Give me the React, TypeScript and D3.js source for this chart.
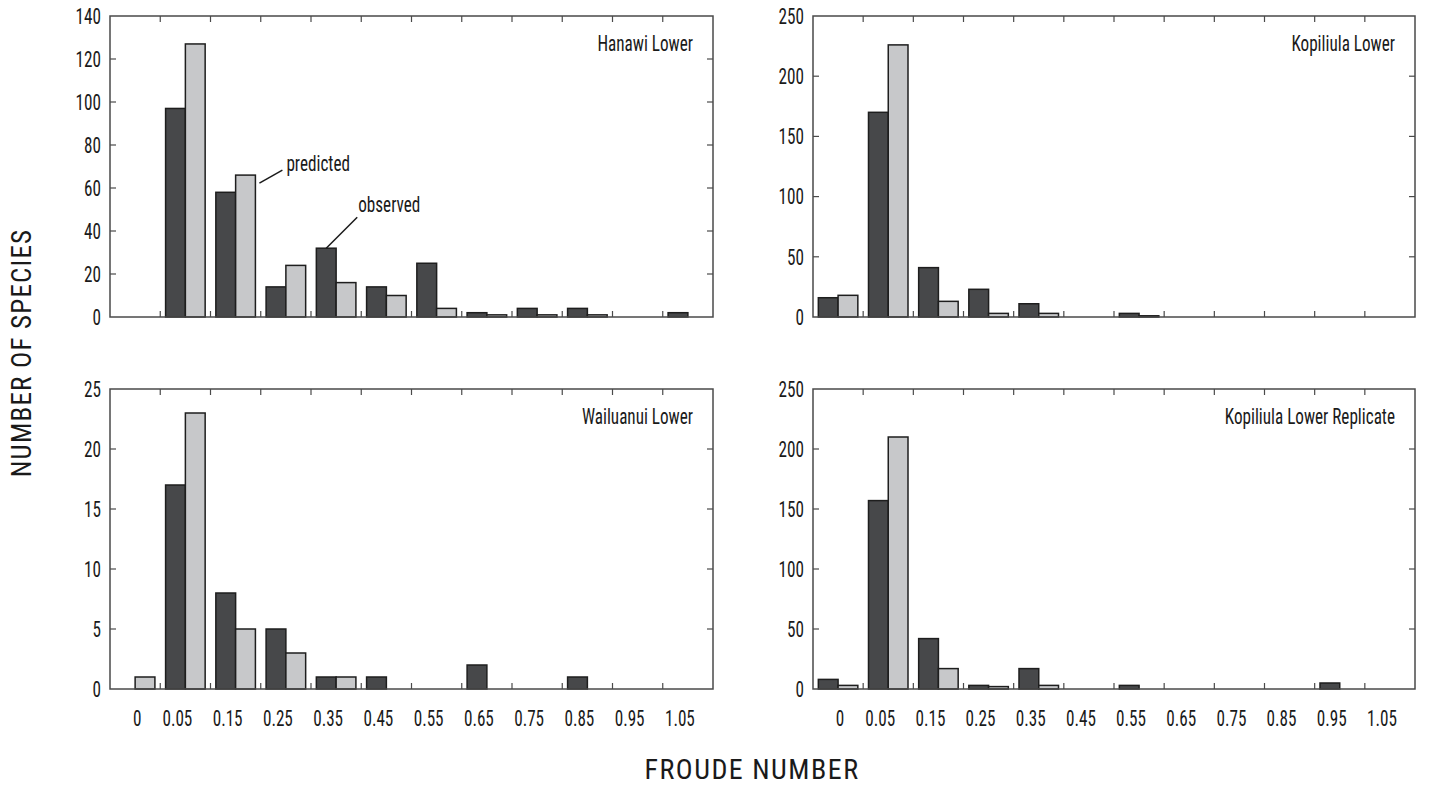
import React from "react";
import * as d3 from "d3";

const binLabels = ["0", "0.05", "0.15", "0.25", "0.35", "0.45", "0.55", "0.65", "0.75", "0.85", "0.95", "1.05"];

const hanawiObserved = [null, 97, 58, 14, 32, 14, 25, 2, 4, 4, null, 2];
const hanawiPredicted = [null, 127, 66, 24, 16, 10, 4, 1, 1, 1, null, null];

const kopiliulaObserved = [16, 170, 41, 23, 11, null, 3, null, null, null, null, null];
const kopiliulaPredicted = [18, 226, 13, 3, 3, null, 1, null, null, null, null, null];

const wailuanuiObserved = [null, 17, 8, 5, 1, 1, null, 2, null, 1, null, null];
const wailuanuiPredicted = [1, 23, 5, 3, 1, null, null, null, null, null, null, null];

const replicateObserved = [8, 157, 42, 3, 17, null, 3, null, null, null, 5, null];
const replicatePredicted = [3, 210, 17, 2, 3, null, null, null, null, null, null, null];

const hanawiTicks = [0, 20, 40, 60, 80, 100, 120, 140];
const kopiliulaTicks = [0, 50, 100, 150, 200, 250];
const wailuanuiTicks = [0, 5, 10, 15, 20, 25];
const replicateTicks = [0, 50, 100, 150, 200, 250];

const FONT = "'Roboto Condensed', 'Liberation Sans Narrow', 'Arial Narrow', 'Liberation Sans', sans-serif";
const DARK = "#47484a";
const LIGHT = "#c7c8ca";
const OUTLINE = "#1e1e1e";
const AXIS = "#4a4a4a";
const INK = "#1a1a1a";

function T({ x, y, anchor = "start", size = 22, sx = 0.78, children, spacing = 0 }: any) {
  return (
    <text transform={`translate(${x},${y}) scale(${sx},1)`} textAnchor={anchor} dy="0.35em" fontSize={size} fontFamily={FONT} fill={INK} letterSpacing={spacing}>
      {children}
    </text>
  );
}

type PanelProps = {
  x0: number; x1: number; y0: number; y1: number;
  title: string; observed: (number | null)[]; predicted: (number | null)[];
  ticks: number[]; showX: boolean; annotate?: boolean;
};

function Panel({ x0, x1, y0, y1, title, observed, predicted, ticks, showX, annotate }: PanelProps) {
  const x = d3.scaleBand<number>().domain(d3.range(binLabels.length)).range([x0, x1]).padding(0);
  const inner = d3.scaleBand<string>().domain(["obs", "pred"]).range([0, x.bandwidth()]).paddingInner(0).paddingOuter(0.27);
  const yMax = ticks[ticks.length - 1];
  const y = d3.scaleLinear().domain([0, yMax]).range([y1, y0]);
  const bw = inner.bandwidth();
  const bars: any[] = [];
  observed.forEach((v, i) => {
    if (v != null) bars.push(<rect key={"o" + i} x={(x(i) as number) + (inner("obs") as number)} y={y(v)} width={bw} height={y(0) - y(v)} fill={DARK} stroke={OUTLINE} strokeWidth={1.5} />);
  });
  predicted.forEach((v, i) => {
    if (v != null) bars.push(<rect key={"p" + i} x={(x(i) as number) + (inner("pred") as number)} y={y(v)} width={bw} height={y(0) - y(v)} fill={LIGHT} stroke={OUTLINE} strokeWidth={1.5} />);
  });
  const boundaries = d3.range(1, binLabels.length).map((i) => x(i) as number);
  const px = (x(2) as number) + (inner("pred") as number) + bw;
  const py = y(predicted[2] as number);
  const ox = (x(4) as number) + (inner("obs") as number) + bw / 2;
  const oy = y(observed[4] as number);
  return (
    <g>
      {bars}
      <rect x={x0} y={y0} width={x1 - x0} height={y1 - y0} fill="none" stroke={AXIS} strokeWidth={1.5} />
      {boundaries.map((b, i) => (
        <g key={"t" + i}>
          <line x1={b} x2={b} y1={y0} y2={y0 + 6} stroke={AXIS} strokeWidth={1.2} />
          <line x1={b} x2={b} y1={y1} y2={y1 - 6} stroke={AXIS} strokeWidth={1.2} />
        </g>
      ))}
      {ticks.map((t, i) => (
        <g key={"y" + i}>
          {t > 0 && t < yMax ? (
            <g>
              <line x1={x1} x2={x1 - 6} y1={y(t)} y2={y(t)} stroke={AXIS} strokeWidth={1.2} />
              <line x1={x0} x2={x0 + 6} y1={y(t)} y2={y(t)} stroke={AXIS} strokeWidth={1.2} />
            </g>
          ) : null}
          <T x={x0 - 9} y={y(t)} anchor="end">{t}</T>
        </g>
      ))}
      <T x={x1 - 20} y={y0 + 27} anchor="end">{title}</T>
      {showX && binLabels.map((l, i) => (
        <T key={"x" + i} x={(x(i) as number) + x.bandwidth() / 2 + (i === 0 ? 2 : -8)} y={y1 + 29} anchor="middle">{l}</T>
      ))}
      {annotate && (
        <g>
          <line x1={px + 4} y1={py + 8} x2={px + 27} y2={py - 5} stroke={INK} strokeWidth={1.5} />
          <T x={px + 31} y={py - 12}>predicted</T>
          <line x1={ox} y1={oy} x2={ox + 31} y2={oy - 31} stroke={INK} strokeWidth={1.5} />
          <T x={ox + 32} y={oy - 44}>observed</T>
        </g>
      )}
    </g>
  );
}

export default function App() {
  return (
    <svg width={1430} height={790} style={{ display: "block", position: "absolute", left: 0, top: 0, background: "#fff" }}>
      <Panel x0={110} x1={713} y0={16} y1={317} title="Hanawi Lower" observed={hanawiObserved} predicted={hanawiPredicted} ticks={hanawiTicks} showX={false} annotate />
      <Panel x0={813} x1={1415} y0={16} y1={317} title="Kopiliula Lower" observed={kopiliulaObserved} predicted={kopiliulaPredicted} ticks={kopiliulaTicks} showX={false} />
      <Panel x0={110} x1={713} y0={389} y1={689} title="Wailuanui Lower" observed={wailuanuiObserved} predicted={wailuanuiPredicted} ticks={wailuanuiTicks} showX />
      <Panel x0={813} x1={1415} y0={389} y1={689} title="Kopiliula Lower Replicate" observed={replicateObserved} predicted={replicatePredicted} ticks={replicateTicks} showX />
      <g transform="translate(22,353) rotate(-90)">
        <T x={0} y={0} anchor="middle" size={27} sx={1} spacing={1.2}>NUMBER OF SPECIES</T>
      </g>
      <T x={752} y={769} anchor="middle" size={28} sx={1} spacing={1.5}>FROUDE NUMBER</T>
    </svg>
  );
}
